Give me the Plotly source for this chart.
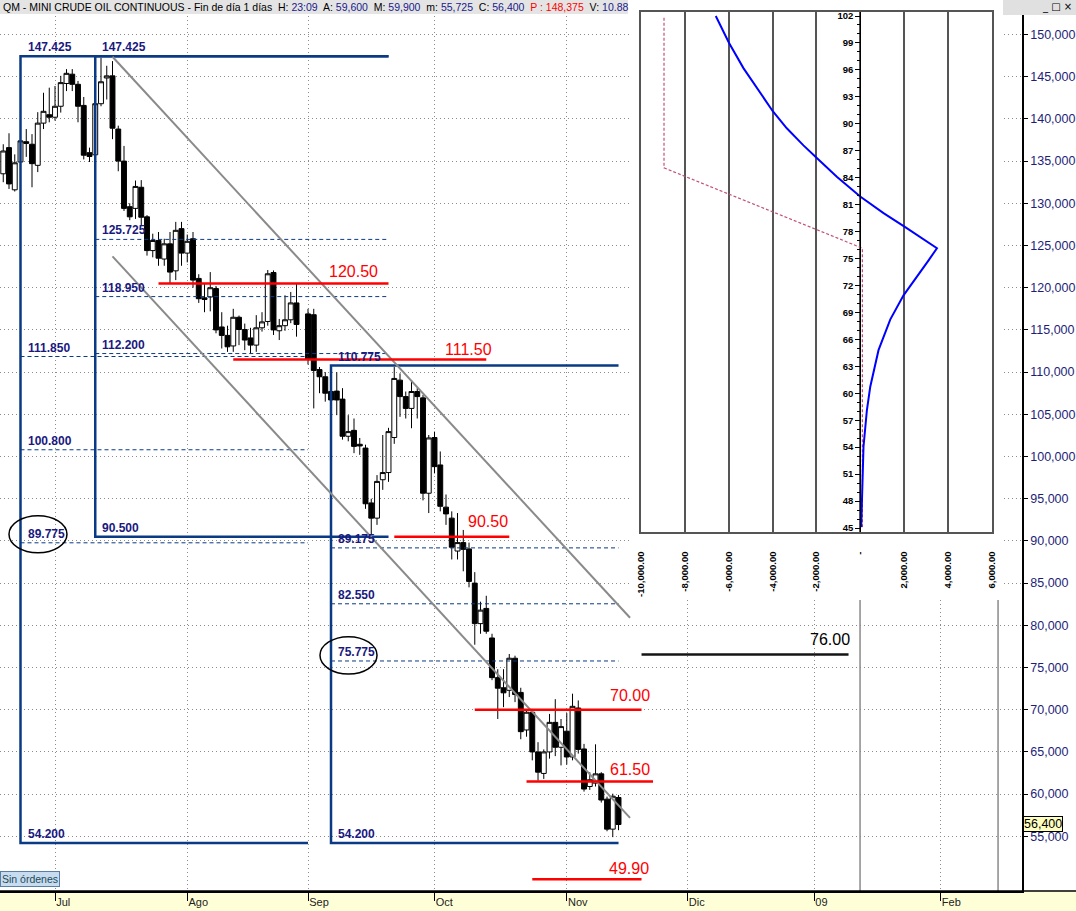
import plotly.graph_objects as go
import pandas as pd

# ---------------- price data (QM mini crude, daily bars) ----------------
dates = [d for d in pd.bdate_range("2008-06-18", "2008-11-14").strftime("%Y-%m-%d")
         if d != "2008-08-29"]

open_ = [133.5, 136.6, 131.6, 134.9, 137.3, 137.0, 134.5, 139.5, 140.5,
         140.2, 141.5, 144.2, 145.3, 144.1, 141.6, 136.0, 135.75, 141.8, 144.85, 145.1, 138.8,
         135.0, 129.6, 129.4, 131.9, 128.4, 124.4, 125.6, 123.4, 125.2, 122.0, 127.0,
         124.1, 125.8, 121.1, 118.8, 118.9, 119.9, 115.35, 114.35, 113.1, 116.5, 115.05, 114.05,
         113.2, 115.25, 116.0, 121.8, 114.9, 115.5, 116.2, 118.2,
         116.9, 116.8, 110.3, 109.45, 107.7, 107.75, 106.8, 102.4, 103.1, 101.45, 101.0, 94.5,
         92.7, 97.25, 98.1, 102.25, 109.05, 107.1, 105.7, 107.7, 106.95, 95.65,
         102.25, 99.0, 94.0, 92.7, 88.8, 89.8, 89.05, 85.0, 80.2, 82.0, 78.5, 73.8, 72.6, 72.3,
         76.1, 72.05, 67.6, 69.7, 65.0, 62.45, 65.0, 68.5, 65.55,
         67.45, 64.4, 70.2, 65.35, 60.9, 61.3, 62.4, 59.4, 55.85, 59.6]
high = [137.0, 138.3, 135.8, 138.3, 138.8, 138.2, 140.8, 143.1, 143.7,
        143.9, 145.1, 145.9, 145.9, 144.5, 142.6, 136.6, 142.2, 147.25, 146.3, 146.85, 139.2,
        136.8, 130.0, 132.7, 132.75, 128.6, 126.4, 126.6, 125.8, 126.6, 127.8, 127.8,
        126.3, 126.6, 121.6, 120.5, 121.85, 120.2, 117.1, 115.5, 117.5, 116.7, 115.75, 115.25,
        116.75, 117.1, 122.1, 122.05, 116.3, 119.1, 119.5, 120.5,
        117.5, 117.5, 110.6, 110.0, 109.05, 110.0, 108.1, 104.9, 104.5, 102.2, 101.4, 95.0,
        97.8, 102.55, 103.4, 110.6, 109.85, 107.7, 108.85, 108.1, 107.3, 102.55,
        102.95, 100.6, 95.5, 93.5, 93.3, 91.3, 89.8, 86.3, 82.8, 83.5, 79.0, 74.8, 74.8, 76.6,
        76.4, 72.6, 70.0, 70.1, 66.15, 65.3, 69.5, 71.25, 68.9,
        69.6, 71.9, 71.1, 65.95, 62.6, 65.9, 62.6, 59.7, 60.05, 59.9]
low = [132.5, 131.7, 131.4, 133.2, 135.5, 131.9, 133.7, 138.8, 139.6,
       139.8, 140.75, 143.3, 143.3, 139.6, 135.2, 134.9, 135.2, 141.5, 142.3, 137.6, 133.8,
       129.1, 128.0, 128.15, 127.4, 123.8, 123.6, 122.6, 122.6, 120.5, 120.9, 122.6,
       123.0, 120.0, 118.2, 117.1, 117.2, 114.6, 112.8, 112.4, 112.4, 113.2, 112.6, 112.2,
       112.4, 114.8, 115.5, 114.4, 113.8, 114.9, 115.8, 114.2,
       110.9, 105.7, 107.5, 106.5, 105.3, 104.9, 102.0, 101.8, 100.4, 100.2, 93.8, 90.75,
       91.9, 96.05, 97.0, 101.5, 104.7, 104.5, 103.35, 104.5, 94.8, 93.3,
       98.0, 93.5, 91.9, 87.8, 87.8, 86.4, 84.5, 77.7, 79.0, 79.0, 73.5, 68.9, 70.3, 71.5,
       70.9, 66.5, 66.8, 64.0, 61.6, 61.8, 64.2, 64.5, 63.4,
       63.5, 64.0, 64.8, 60.3, 60.5, 60.9, 59.0, 55.6, 54.9, 55.725]
close = [136.2, 132.3, 134.8, 137.4, 137.1, 134.7, 139.5, 140.9, 140.2,
         141.5, 144.3, 145.4, 144.1, 141.5, 135.7, 135.55, 141.8, 144.4, 145.1, 138.9, 135.0,
         129.4, 128.4, 132.0, 128.35, 124.4, 125.6, 123.5, 125.2, 121.85, 126.8, 124.1,
         125.5, 120.9, 118.7, 118.6, 120.0, 115.0, 114.35, 113.0, 116.5, 115.05, 113.8, 113.2,
         115.25, 115.95, 121.65, 115.0, 115.5, 116.2, 118.2, 115.65,
         111.5, 110.2, 109.45, 107.5, 106.7, 106.7, 102.4, 102.95, 101.2, 101.25, 94.4, 92.7,
         97.05, 98.1, 102.95, 109.25, 107.1, 105.7, 107.7, 107.1, 95.65, 102.2,
         98.8, 94.1, 93.2, 89.25, 89.8, 89.0, 85.2, 80.2, 81.8, 79.3, 73.8, 72.55, 72.0, 76.1,
         71.8, 67.4, 69.7, 65.0, 62.6, 65.0, 68.5, 65.55, 68.0,
         64.4, 70.4, 65.3, 60.6, 61.7, 62.4, 59.3, 55.85, 59.75, 56.4]

month_ticks = ["2008-07-01", "2008-08-01", "2008-09-01", "2008-10-01", "2008-11-03",
               "2008-12-02", "2009-01-01", "2009-02-02"]
month_labels = ["Jul", "Ago", "Sep", "Oct", "Nov", "Dic", "09", "Feb"]
price_ticks = [55, 60, 65, 70, 75, 80, 85, 90, 95, 100, 105, 110, 115, 120, 125, 130,
               135, 140, 145, 150]

# ---------------- drawn studies ----------------
box_left = ["2008-06-23", "2008-07-10", "2008-09-05"]
box_top = [147.425, 147.425, 110.775]
box_bottom = [54.200, 90.500, 54.200]
box_top_end = ["2008-09-19", "2008-09-19", "2008-11-14"]
box_bottom_end = ["2008-09-01", "2008-09-19", "2008-11-14"]

fib_levels = [125.725, 118.950, 112.200, 111.850, 100.800, 89.775, 89.175, 82.550, 75.775]
fib_start = ["2008-07-10", "2008-07-10", "2008-07-10", "2008-06-23", "2008-06-23",
             "2008-06-23", "2008-09-05", "2008-09-05", "2008-09-05"]
fib_end = ["2008-09-19", "2008-09-19", "2008-09-19", "2008-09-01", "2008-09-01",
           "2008-09-01", "2008-11-14", "2008-11-14", "2008-11-14"]

label_levels = [147.425, 147.425, 125.725, 118.950, 112.200, 111.850, 100.800, 90.500,
                89.775, 110.775, 89.175, 82.550, 75.775, 54.200, 54.200]
label_dates = ["2008-06-23", "2008-07-10", "2008-07-10", "2008-07-10", "2008-07-10",
               "2008-06-23", "2008-06-23", "2008-07-10", "2008-06-23", "2008-09-05",
               "2008-09-05", "2008-09-05", "2008-09-05", "2008-06-23", "2008-09-05"]

red_levels = [120.50, 111.50, 90.50, 70.00, 61.50, 49.90]
red_start = ["2008-07-25", "2008-08-13", "2008-09-22", "2008-10-10", "2008-10-23", "2008-10-24"]
red_end = ["2008-09-19", "2008-10-14", "2008-10-20", "2008-11-20", "2008-11-24", "2008-11-20"]

target_level = 76.55
target_text = "76.00"
target_start = "2008-11-20"
target_end = "2009-01-09"

channel_dates = ["2008-07-15", "2008-11-18"]
channel_upper = [147.36, 80.89]
channel_lower = [123.71, 57.18]

time_lines = ["2009-01-13", "2009-02-16"]

ellipse_x0 = ["2008-06-19 12:00", "2008-09-03 14:00"]
ellipse_x1 = ["2008-07-03 14:00", "2008-09-17 12:00"]
ellipse_y0 = [88.60, 74.23]
ellipse_y1 = [92.99, 78.65]

# ---------------- inset (payoff profile) ----------------
pl_x = [-6589, -5982, -5327, -4718, -3988, -3348, -2589, -1979, -1066, 0, 1065, 2055,
        2891, 3502, 3120, 2587, 1977, 1370, 836, 457, 305, 151, 77, 46]
pl_y = [102.0, 99.0, 96.2, 93.97, 91.4, 89.5, 87.6, 86.2, 84.1, 81.9, 80.05, 78.5,
        77.1, 76.15, 74.8, 73.0, 70.9, 68.2, 64.8, 60.7, 58.1, 54.05, 49.2, 45.1]
exp_x = [-8950, -8950, 100, 100]
exp_y = [101.8, 85.1, 76.15, 45.1]
inset_x_ticks = [-10000, -8000, -6000, -4000, -2000, 0, 2000, 4000, 6000]
inset_x_labels = ["-10,000.00", "-8,000.00", "-6,000.00", "-4,000.00", "-2,000.00", "-",
                  "2,000.00", "4,000.00", "6,000.00"]

# ---------------- geometry / style ----------------
W, H = 1076, 911
PL, PR, PB = 0, 54, 20
PW, PH = W - PL - PR, H - PB
Y_RANGE = [48.52, 154.09]
X_RANGE = ["2008-06-17 22:26", "2009-02-20 16:00"]
NAVY = "#191980"
BOXC = "#0a3a84"
FONT = "Liberation Sans, Arial, sans-serif"


def noon(d):
    return d if " " in d else d + " 12:00"


def px(v):
    return v / PW


def py(v):
    return (PH - v) / PH


fig = go.Figure()

fig.add_trace(go.Candlestick(
    x=[noon(d) for d in dates], open=open_, high=high, low=low, close=close,
    increasing=dict(line=dict(color="black", width=1), fillcolor="white"),
    decreasing=dict(line=dict(color="black", width=1), fillcolor="black"),
    whiskerwidth=0, showlegend=False, hoverinfo="skip"))

# time lines (vertical)
tx, ty = [], []
for t in time_lines:
    tx += [noon(t), noon(t), None]
    ty += [Y_RANGE[0], Y_RANGE[1], None]
fig.add_trace(go.Scatter(x=tx, y=ty, mode="lines", line=dict(color="#8a8a8a", width=1.5),
                         showlegend=False, hoverinfo="skip"))

# fib dashed lines
fx, fy = [], []
for lv, s, e in zip(fib_levels, fib_start, fib_end):
    fx += [noon(s), noon(e), None]
    fy += [lv, lv, None]
fig.add_trace(go.Scatter(x=fx, y=fy, mode="lines",
                         line=dict(color=BOXC, width=1, dash="4px,3px"),
                         showlegend=False, hoverinfo="skip"))

# boxes
bx, by = [], []
for l, t, b, te, be in zip(box_left, box_top, box_bottom, box_top_end, box_bottom_end):
    bx += [noon(te), noon(l), noon(l), noon(be), None]
    by += [t, t, b, b, None]
fig.add_trace(go.Scatter(x=bx, y=by, mode="lines", line=dict(color=BOXC, width=2.5),
                         showlegend=False, hoverinfo="skip"))

# channel
for ys in (channel_upper, channel_lower):
    fig.add_trace(go.Scatter(x=[noon(d) for d in channel_dates], y=ys, mode="lines",
                             line=dict(color="#8a8a8a", width=2),
                             showlegend=False, hoverinfo="skip"))

# red levels
rx, ry = [], []
for lv, s, e in zip(red_levels, red_start, red_end):
    rx += [noon(s), noon(e), None]
    ry += [lv, lv, None]
fig.add_trace(go.Scatter(x=rx, y=ry, mode="lines", line=dict(color="#ff0000", width=2.5),
                         showlegend=False, hoverinfo="skip"))

# black target
fig.add_trace(go.Scatter(x=[noon(target_start), noon(target_end)],
                         y=[target_level, target_level], mode="lines",
                         line=dict(color="#141414", width=2.5),
                         showlegend=False, hoverinfo="skip"))

# cover panel (white background of the inset window)
fig.add_trace(go.Scatter(x=[], y=[], xaxis="x2", yaxis="y2", showlegend=False,
                         hoverinfo="skip"))

# inset traces
fig.add_trace(go.Scatter(x=exp_x, y=exp_y, xaxis="x3", yaxis="y3", mode="lines",
                         line=dict(color="#c0507a", width=1.2, dash="3px,2px"),
                         showlegend=False, hoverinfo="skip"))
fig.add_trace(go.Scatter(x=pl_x, y=pl_y, xaxis="x3", yaxis="y4", mode="lines",
                         line=dict(color="#0000ff", width=2),
                         showlegend=False, hoverinfo="skip"))

annotations = []
# box labels
for lv, d in zip(label_levels, label_dates):
    annotations.append(dict(x=noon(d), y=lv, xref="x", yref="y", text=f"{lv:.3f}",
                            showarrow=False, xanchor="left", yanchor="middle",
                            xshift=5, yshift=9,
                            font=dict(family=FONT, size=12, color=NAVY, weight="bold")))
# red labels
red_dx = [-9, 8, 1, 10, -1, 9]
red_dy = [12, 10, 15, 14, 12, 11]
for lv, e, dx, dy in zip(red_levels, red_end, red_dx, red_dy):
    annotations.append(dict(x=noon(e), y=lv, xref="x", yref="y", text=f"{lv:.2f}",
                            showarrow=False, xanchor="right", yanchor="middle",
                            xshift=dx, yshift=dy,
                            font=dict(family=FONT, size=16, color="#ff0000")))
annotations.append(dict(x=noon(target_end), y=target_level, xref="x", yref="y",
                        text=target_text, showarrow=False, xanchor="right",
                        yanchor="middle", xshift=3, yshift=15,
                        font=dict(family=FONT, size=16, color="#000000")))

# title bar text
v = lambda p: f"{p * 1000:,.0f}"
blue = lambda s: f"<span style='color:#1a1a8c'>{s}</span>"
title = ("QM - MINI CRUDE OIL CONTINUOUS - Fin de día 1 días  H: " + blue("23:09") +
         "  A: " + blue(v(open_[-1])) + "  M: " + blue(v(high[-1])) +
         "  m: " + blue(v(low[-1])) + "  C: " + blue(v(close[-1])) +
         "  <span style='color:#ff0000'>P : 148,375</span>  V: " + blue("10.88"))
annotations.append(dict(x=px(1), y=py(7), xref="paper", yref="paper", text=title,
                        showarrow=False, xanchor="left", yanchor="middle",
                        font=dict(family=FONT, size=10.5, color="#000000")))
annotations.append(dict(x=px(1074), y=py(7), xref="paper", yref="paper", text="_ □ ×",
                        showarrow=False, xanchor="right", yanchor="middle",
                        font=dict(family="DejaVu Sans", size=10, color="#000000")))
# last price tag
annotations.append(dict(x=1.0, y=close[-1], xref="paper", yref="y", text=v(close[-1]),
                        showarrow=False, xanchor="left", yanchor="middle", xshift=1,
                        bgcolor="#ffffc0", bordercolor="#000000", borderwidth=1, borderpad=0,
                        font=dict(family=FONT, size=12.5, color="#000000")))
# orders box
annotations.append(dict(x=0, y=py(879), xref="paper", yref="paper", text="Sin órdenes",
                        showarrow=False, xanchor="left", yanchor="middle",
                        bgcolor="#c7dcef", bordercolor="#5a7fa5", borderwidth=1, borderpad=1,
                        font=dict(family=FONT, size=10.5, color="#1e4b5a")))

shapes = [
    dict(type="rect", xref="paper", yref="paper", x0=0, x1=px(628), y0=py(14), y1=1,
         fillcolor="#e4e4e4", line=dict(width=0), layer="above"),
    dict(type="rect", xref="paper", yref="paper", x0=px(1003), x1=px(W), y0=py(15), y1=1,
         fillcolor="#e0e0e0", line=dict(width=0), layer="above"),
    dict(type="rect", xref="paper", yref="paper", x0=0, x1=px(W), y0=py(H), y1=0,
         fillcolor="#ffffd7", line=dict(width=0), layer="below"),
    dict(type="line", xref="paper", yref="paper", x0=0, x1=px(W), y0=0, y1=0,
         line=dict(color="#000000", width=1.5), layer="above"),
]
for x0, x1, y0, y1 in zip(ellipse_x0, ellipse_x1, ellipse_y0, ellipse_y1):
    shapes.append(dict(type="circle", xref="x", yref="y", x0=x0, x1=x1, y0=y0, y1=y1,
                       line=dict(color="#000000", width=1.5), layer="above"))

inset_xd = [px(641), px(991.7)]
inset_yd = [py(531.7), py(11.7)]
zero_pos = inset_xd[0] + (0 - (-10000)) / 16000 * (inset_xd[1] - inset_xd[0])
inset_yr = [44.59, 102.48]

fig.update_layout(
    width=W, height=H, margin=dict(l=PL, r=PR, t=0, b=PB, pad=0, autoexpand=False),
    paper_bgcolor="white", plot_bgcolor="white", showlegend=False, hovermode=False,
    font=dict(family=FONT), boxgap=0.15, boxgroupgap=0,
    xaxis=dict(type="date", range=X_RANGE, rangebreaks=[dict(bounds=["sat", "mon"])],
               domain=[0, 1], anchor="y", automargin=False,
               tickmode="array", tickvals=[noon(m) for m in month_ticks],
               ticktext=month_labels, ticks="outside", ticklen=8, tickcolor="#000000",
               ticklabelposition="outside right",
               tickfont=dict(family=FONT, size=11, color="#222222"),
               showgrid=True, gridcolor="#8c8c8c", griddash="1px,3px", gridwidth=1,
               showline=True, linecolor="#000000", linewidth=1.5, zeroline=False,
               rangeslider=dict(visible=False)),
    yaxis=dict(range=Y_RANGE, side="right", domain=[0, 1], anchor="x", automargin=False,
               tickmode="array", tickvals=price_ticks,
               ticktext=[v(t) for t in price_ticks], ticks="outside", ticklen=4,
               tickcolor="#000000", tickfont=dict(family=FONT, size=12.5, color="#1e1e78"),
               showgrid=True, gridcolor="#8c8c8c", griddash="1px,3px", gridwidth=1,
               showline=True, linecolor="#000000", linewidth=1.5, zeroline=False),
    xaxis2=dict(domain=[px(631), px(1003)], anchor="y2", range=[0, 1], showgrid=False,
                automargin=False,
                zeroline=False, showticklabels=False, showline=False, ticks=""),
    yaxis2=dict(domain=[py(600), 1.0], anchor="x2", range=[0, 1], showgrid=False,
                automargin=False,
                zeroline=False, showticklabels=False, showline=False, ticks=""),
    xaxis3=dict(domain=inset_xd, anchor="y3", range=[-10000, 6000], tickmode="array",
                automargin=False,
                tickvals=inset_x_ticks, ticktext=inset_x_labels, tickangle=-90,
                ticks="", ticklabelstandoff=14,
                tickfont=dict(family=FONT, size=9.5, color="#000000", weight="bold"),
                showgrid=True, gridcolor="#555555", gridwidth=1.6, zeroline=False,
                showline=True, mirror=True, linecolor="#555555", linewidth=2),
    yaxis3=dict(domain=inset_yd, anchor="x3", range=inset_yr, showgrid=False,
                automargin=False,
                zeroline=False, showticklabels=False, ticks="", showline=True,
                mirror=True, linecolor="#555555", linewidth=2),
    yaxis4=dict(overlaying="y3", anchor="free", position=zero_pos, side="left",
                automargin=False,
                range=inset_yr, tickmode="linear", tick0=45, dtick=3, ticks="outside",
                ticklen=5, tickcolor="#000000",
                tickfont=dict(family=FONT, size=9.5, color="#000000", weight="bold"),
                minor=dict(ticks="outside", dtick=1, tick0=45, ticklen=3,
                           tickcolor="#000000", showgrid=False),
                showgrid=False, zeroline=False, showline=True, linecolor="#000000",
                linewidth=1),
    annotations=annotations, shapes=shapes,
)

fig.write_html("out.html", config={"displayModeBar": False},
               post_script="document.body.style.margin='0px';")
